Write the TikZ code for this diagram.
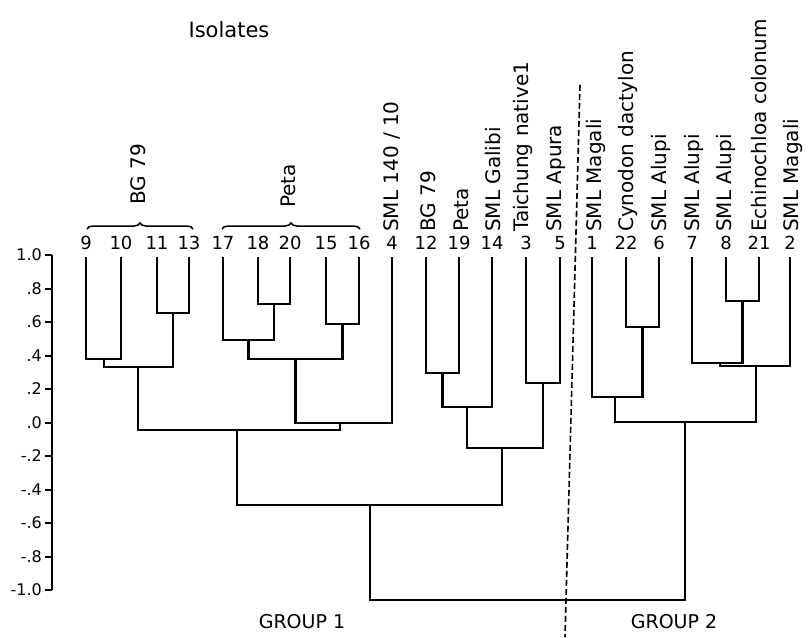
\documentclass[tikz,border=0pt]{standalone}
\usepackage{fontspec}
\setmainfont{DejaVu Sans}
\usetikzlibrary{decorations.pathreplacing}
\tikzset{
  tree/.style={line width=2.3pt, line join=miter},
  axisline/.style={line width=2pt},
  leafnum/.style={font=\fontsize{18}{18}\selectfont, inner sep=0pt},
  isolabel/.style={font=\fontsize{20}{20}\selectfont, inner sep=0pt, rotate=90, anchor=west},
  ticklabel/.style={font=\fontsize{16}{16}\selectfont, inner sep=0pt, anchor=east},
  grouplabel/.style={font=\fontsize{19}{19}\selectfont, inner sep=0pt},
  bracedeco/.style={line width=1.5pt, decorate, decoration={brace, amplitude=6pt}},
  divider/.style={line width=1.6pt, dash pattern=on 6pt off 3pt}
}
\begin{document}
\begin{tikzpicture}[x=1pt, y=-1pt]
\useasboundingbox (0,0) rectangle (808,637);

% title
\node[font=\fontsize{21}{21}\selectfont, inner sep=0pt] (title) at (229,30) {Isolates};

% axis
\draw[axisline] (52,255) -- (52,590);
\foreach \v/\l in {1/1.0, 0.8/.8, 0.6/.6, 0.4/.4, 0.2/.2, 0/.0, -0.2/-.2, -0.4/-.4, -0.6/-.6, -0.8/-.8, -1/-1.0}{
  \draw[axisline] (45,{422.5-167.5*\v}) -- (52,{422.5-167.5*\v});
  \node[ticklabel] at (42,{422.5-167.5*\v}) {\l};
}

% leaves: name/x
\foreach \n/\x in {9/86, 10/121, 11/157, 13/189, 17/223, 18/258, 20/290, 15/326, 16/359, 4/392, 12/426, 19/459, 14/492, 3/526, 5/560, 1/592, 22/626, 6/659, 7/692, 8/726, 21/759, 2/790}{
  \node[leafnum] (n\n) at (\x,243) {\n};
  \coordinate (t\n) at (\x,257);
}

% isolate names
\node[isolabel] (l4) at (392,232) {SML 140 / 10};
\node[isolabel] (l12) at (428,232) {BG 79};
\node[isolabel] (l19) at (461,232) {Peta};
\node[isolabel] (l14) at (493,232) {SML Galibi};
\node[isolabel] (l3) at (523,232) {Taichung native1};
\node[isolabel] (l5) at (556,232) {SML Apura};
\node[isolabel] (l1) at (596,232) {SML Magali};
\node[isolabel] (l22) at (628,232) {Cynodon dactylon};
\node[isolabel] (l6) at (661,232) {SML Alupi};
\node[isolabel] (l7) at (694,232) {SML Alupi};
\node[isolabel] (l8) at (726,232) {SML Alupi};
\node[isolabel] (l21) at (759,232) {Echinochloa colonum};
\node[isolabel] (l2) at (793,232) {SML Magali};

% braces
\draw[bracedeco] (87,229) -- (193,229);
\node[isolabel] (bg) at (138,205) {BG 79};
\draw[bracedeco] (222,229) -- (360,229);
\node[isolabel] (peta) at (288,208) {Peta};

% junctions
\coordinate (j9) at (104,359);
\coordinate (j11) at (173,313);
\coordinate (jA) at (138,367);
\coordinate (j18) at (274,304);
\coordinate (j17) at (248.5,340);
\coordinate (j15) at (342.5,324);
\coordinate (jP) at (295.5,359);
\coordinate (jP4) at (340,423);
\coordinate (jL) at (237,430);
\coordinate (j12) at (442.5,373);
\coordinate (j14) at (467,407);
\coordinate (j3) at (543,383);
\coordinate (jR) at (502,448);
\coordinate (jG1) at (370,505);
\coordinate (j22) at (642.5,327);
\coordinate (j1) at (615,397);
\coordinate (j8) at (742.5,301);
\coordinate (j7) at (720,363);
\coordinate (j2) at (756,366);
\coordinate (jG2) at (685,422);
\coordinate (root) at (527,600);

% tree
\draw[tree] (t9) |- (j9) -| (t10);
\draw[tree] (t11) |- (j11) -| (t13);
\draw[tree] (j9) |- (jA) -| (j11);
\draw[tree] (t18) |- (j18) -| (t20);
\draw[tree] (t17) |- (j17) -| (j18);
\draw[tree] (t15) |- (j15) -| (t16);
\draw[tree] (j17) |- (jP) -| (j15);
\draw[tree] (jP) |- (jP4) -| (t4);
\draw[tree] (jA) |- (jL) -| (jP4);
\draw[tree] (t12) |- (j12) -| (t19);
\draw[tree] (j12) |- (j14) -| (t14);
\draw[tree] (t3) |- (j3) -| (t5);
\draw[tree] (j14) |- (jR) -| (j3);
\draw[tree] (jL) |- (jG1) -| (jR);
\draw[tree] (t22) |- (j22) -| (t6);
\draw[tree] (t1) |- (j1) -| (j22);
\draw[tree] (t8) |- (j8) -| (t21);
\draw[tree] (t7) |- (j7) -| (j8);
\draw[tree] (j7) |- (j2) -| (t2);
\draw[tree] (j1) |- (jG2) -| (j2);
\draw[tree] (jG1) |- (root) -| (jG2);

% divider
\coordinate (dtop) at (580,85);
\coordinate (dbot) at (565,637);
\draw[divider] (dtop) -- (dbot);

% group labels
\node[grouplabel] (g1) at (302,622) {GROUP 1};
\node[grouplabel] (g2) at (674,622) {GROUP 2};
\end{tikzpicture}
\end{document}
